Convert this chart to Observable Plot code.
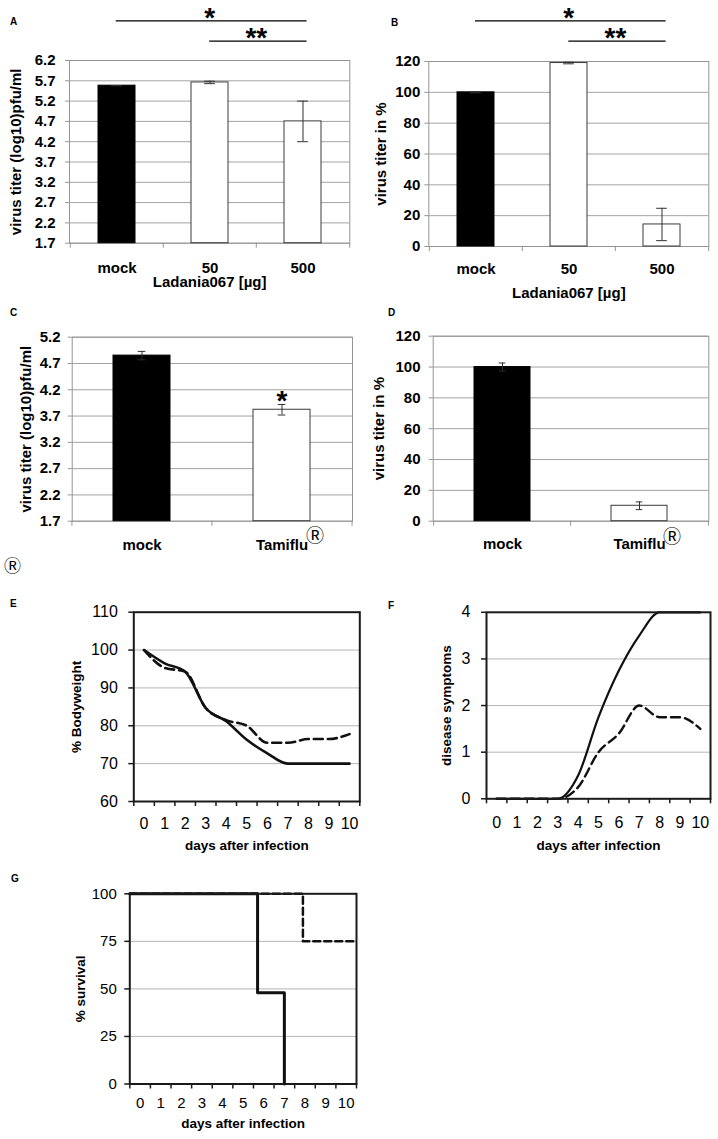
<!DOCTYPE html>
<html>
<head>
<meta charset="utf-8">
<script src="https://cdn.jsdelivr.net/npm/d3@7"></script>
<script src="https://cdn.jsdelivr.net/npm/@observablehq/plot@0.6"></script>
<style>
html,body{margin:0;padding:0;background:#fff;}
#fig{position:relative;width:718px;height:1139px;overflow:hidden;background:#fff;font-family:"Liberation Sans",Arial,Helvetica,sans-serif;color:#000;}
.letter{position:absolute;font-weight:bold;font-size:10px;line-height:1;}
.reg{position:absolute;font-family:"DejaVu Serif","DejaVu Sans","Noto Sans CJK JP",serif;font-size:17px;line-height:1;}
.holder{position:absolute;}
</style>
</head>
<body>
<div id="fig"></div>
<script>
// ---------------- data ----------------
const ladaniaGroups = ["mock", "50", "500"];
const titerA = [5.58, 5.66, 4.70];
const titerAErr = [0.00, 0.03, 0.50];
const percentB = [100, 119, 14.3];
const percentBErr = [0.3, 0.5, 10.5];
const tamifluGroups = ["mock", "Tamiflu"];
const titerC = [4.85, 3.82];
const titerCErr = [0.08, 0.10];
const percentD = [100, 10];
const percentDErr = [2.6, 2.5];
const titerTicksA = [1.7, 2.2, 2.7, 3.2, 3.7, 4.2, 4.7, 5.2, 5.7, 6.2];
const titerTicksC = [1.7, 2.2, 2.7, 3.2, 3.7, 4.2, 4.7, 5.2];
const percentTicks = [0, 20, 40, 60, 80, 100, 120];
const sigFrom = ["mock", "50"];
const sigTo = ["500", "500"];
const sigLabels = ["*", "**"];
const sigLevels = [2, 1];
const starC = ["Tamiflu"];

const days = [0, 1, 2, 3, 4, 5, 6, 7, 8, 9, 10];
const dayEdges = [-0.5, 0.5, 1.5, 2.5, 3.5, 4.5, 5.5, 6.5, 7.5, 8.5, 9.5, 10.5];
const bodyweightSolid = [100, 96.5, 94.3, 84.7, 81.2, 76.3, 72.7, 70, 70, 70, 70];
const bodyweightDashed = [100, 95.3, 94.3, 84.7, 81.5, 80.0, 75.5, 75.5, 76.5, 76.5, 77.8];
const bodyweightTicks = [60, 70, 80, 90, 100, 110];
const bodyweightGrid = [70, 80, 90, 100];
const symptomsSolid = [0, 0, 0, 0, 0.5, 1.75, 2.75, 3.5, 4, 4, 4];
const symptomsDashed = [0, 0, 0, 0, 0.25, 1.0, 1.4, 2.0, 1.75, 1.75, 1.5];
const symptomsTicks = [0, 1, 2, 3, 4];
const symptomsGrid = [1, 2, 3];
const survivalSolidDays = [-0.5, 5.7, 7];
const survivalSolid = [100, 48, 0];
const survivalDashedDays = [-0.5, 7.9, 10.5];
const survivalDashed = [100, 75, 75];
const survivalTicks = [0, 25, 50, 75, 100];
const survivalGrid = [25, 50, 75];

// ---------------- helpers ----------------
const FONT = '"Liberation Sans", Arial, Helvetica, sans-serif';
const fig = document.getElementById("fig");
function mount(node, x, y) {
  const d = document.createElement("div");
  d.className = "holder";
  d.style.left = x + "px"; d.style.top = y + "px";
  d.appendChild(node); fig.appendChild(d);
}
function dims(svg, fr) {
  return {width: svg.w, height: svg.h,
    marginLeft: fr.l - svg.x, marginRight: svg.x + svg.w - fr.r,
    marginTop: fr.t - svg.y, marginBottom: svg.y + svg.h - fr.b};
}
function htmlText(cls, txt, x, y) {
  const d = document.createElement("div");
  d.className = cls; d.textContent = txt;
  d.style.left = x + "px"; d.style.top = y + "px";
  fig.appendChild(d);
}
const BAR_GRID = "#a3a3a3", BAR_FRAME = "#959595", ERR = "#303030";

function barPanel(o) {
  const data = o.groups.map((g, i) => ({group: g, value: o.values[i], err: o.errors[i]}));
  const n = o.groups.length;
  const step = (o.frame.r - o.frame.l) / n;
  const bw = step * (1 - o.padInner);
  const capInset = (bw - o.capW) / 2;
  const y0 = o.yDomain[0];
  const marks = [
    Plot.gridY(o.yTicks, {stroke: BAR_GRID, strokeOpacity: 1}),
    Plot.frame({stroke: BAR_FRAME}),
    Plot.barY(data, {filter: d => d.group === "mock", x: "group", y1: y0, y2: "value", fill: "#000", stroke: "#000"}),
    Plot.barY(data, {filter: d => d.group !== "mock", x: "group", y1: y0, y2: "value", fill: "#fff", stroke: "#3a3a3a"}),
    Plot.ruleX(data, {x: "group", y1: d => d.value - d.err, y2: d => d.value + d.err, stroke: ERR}),
    Plot.tickY(data, {x: "group", y: d => d.value + d.err, insetLeft: capInset, insetRight: capInset, stroke: ERR}),
    Plot.tickY(data, {x: "group", y: d => d.value - d.err, insetLeft: capInset, insetRight: capInset, stroke: ERR}),
    Plot.ruleX(o.groups, {x: d => d, y1: y0, y2: y0, insetBottom: -5, dx: -step / 2, stroke: BAR_FRAME}),
    Plot.ruleX(o.groups.slice(-1), {x: d => d, y1: y0, y2: y0, insetBottom: -5, dx: step / 2, stroke: BAR_FRAME}),
    Plot.axisY({ticks: o.yTicks, tickFormat: o.fmt, tickSize: 4, tickPadding: o.yTickPad, stroke: BAR_FRAME, fill: "#000", label: null}),
    Plot.axisX({tickSize: 0, tickPadding: o.xTickPad, fill: "#000", label: null}),
    Plot.text([o.yLabel], {text: d => d, frameAnchor: "left", rotate: -90, dx: o.yLabelDx, textAnchor: "middle", lineAnchor: "middle", fill: "#000"})
  ];
  if (o.xLabel) marks.push(Plot.text([o.xLabel], {text: d => d, frameAnchor: "bottom", dy: o.xLabelDy, textAnchor: "middle", lineAnchor: "middle", fill: "#000"}));
  if (o.star) marks.push(Plot.text(data.filter(d => o.star.includes(d.group)), {x: "group", y: d => d.value + d.err, text: () => "*", fontSize: 28, fontWeight: "bold", dy: -3, fill: "#000"}));
  if (o.regMark) marks.push(Plot.text(o.regMark, {x: d => d, frameAnchor: "bottom", text: () => "\u24C7", textAnchor: "start", lineAnchor: "middle", dx: o.regDx, dy: o.regDy, fontSize: 18, fontWeight: "normal", fontFamily: '"DejaVu Serif","DejaVu Sans","Noto Sans CJK JP",serif', fill: "#000"}));
  const p = Plot.plot({
    ...dims(o.svg, o.frame),
    style: `font-family:${FONT};font-size:15px;font-weight:bold;overflow:visible;background:transparent;color:#000;`,
    x: {domain: o.groups, paddingInner: o.padInner, paddingOuter: o.padInner / 2},
    y: {domain: o.yDomain},
    marks
  });
  mount(p, o.svg.x, o.svg.y);
}

function sigPanel(o) {
  const rows = sigFrom.map((f, i) => {
    const a = o.groups.indexOf(f), b = o.groups.indexOf(sigTo[i]);
    return {x1: a, x2: b, mid: (a + b) / 2, level: sigLevels[i], label: sigLabels[i]};
  });
  const p = Plot.plot({
    ...dims(o.svg, o.frame),
    style: `font-family:${FONT};font-size:15px;font-weight:bold;overflow:visible;background:transparent;color:#000;`,
    x: {domain: [-0.5, o.groups.length - 0.5], axis: null},
    y: {domain: [0, 3], axis: null},
    marks: [
      Plot.ruleY(rows, {x1: "x1", x2: "x2", y: "level", stroke: "#000", strokeWidth: 1.3, insetRight: -4}),
      Plot.text(rows, {x: "mid", y: "level", text: "label", fontSize: 28, fontWeight: "bold", dy: -3, fill: "#000"})
    ]
  });
  mount(p, o.svg.x, o.svg.y);
}

function linePanel(o) {
  const solid = o.solidX.map((d, i) => ({day: d, v: o.solid[i]}));
  const dashed = o.dashedX.map((d, i) => ({day: d, v: o.dashed[i]}));
  const p = Plot.plot({
    ...dims(o.svg, o.frame),
    style: `font-family:${FONT};font-size:${o.tickFont}px;font-weight:normal;overflow:visible;background:transparent;color:#000;`,
    x: {domain: [-0.5, 10.5]},
    y: {domain: o.yDomain},
    marks: [
      Plot.gridY(o.grid, {stroke: "#b5b5b5", strokeOpacity: 1}),
      Plot.line(dashed, {x: "day", y: "v", curve: o.curve, stroke: "#111", strokeWidth: o.dashW, strokeDasharray: o.dash}),
      Plot.line(solid, {x: "day", y: "v", curve: o.curve, stroke: "#111", strokeWidth: o.solidW}),
      Plot.frame({stroke: "#1a1a1a", strokeWidth: 2}),
      Plot.axisY({ticks: o.yTicks, tickSize: 5, tickPadding: o.yTickPad, tickFormat: d => String(d), stroke: "#1a1a1a", strokeWidth: 1.5, fill: "#000", label: null}),
      Plot.axisX({ticks: dayEdges, tickSize: 5, tickFormat: () => "", stroke: "#1a1a1a", strokeWidth: 1.5, label: null}),
      Plot.axisX({ticks: days, tickSize: 0, tickPadding: o.xTickPad, tickFormat: d => String(d), fill: "#000", label: null}),
      Plot.text([o.yLabel], {text: d => d, frameAnchor: "left", rotate: -90, dx: o.yLabelDx, textAnchor: "middle", lineAnchor: "middle", fontWeight: "bold", fontSize: 13.5, fill: "#000"}),
      Plot.text(["days after infection"], {text: d => d, frameAnchor: "bottom", dy: o.xLabelDy, textAnchor: "middle", lineAnchor: "middle", fontWeight: "bold", fontSize: 13.5, fill: "#000"})
    ]
  });
  mount(p, o.svg.x, o.svg.y);
}

// ---------------- panels ----------------
sigPanel({groups: ladaniaGroups, svg: {x: 0, y: 0, w: 358, h: 61}, frame: {l: 69, r: 349.3, t: 0, b: 61}});
sigPanel({groups: ladaniaGroups, svg: {x: 360, y: 0, w: 358, h: 61}, frame: {l: 428.3, r: 708.3, t: 0, b: 61}});

barPanel({
  groups: ladaniaGroups, values: titerA, errors: titerAErr, yDomain: [1.7, 6.2], yTicks: titerTicksA, fmt: d3.format(".1f"),
  svg: {x: 0, y: 45, w: 358, h: 255}, frame: {l: 69, r: 349.3, t: 60, b: 242.7},
  padInner: 0.6, capW: 11, yTickPad: 10, xTickPad: 18.7,
  yLabel: "virus titer (log10)pfu/ml", yLabelDx: -53.7, xLabel: "Ladania067 [µg]", xLabelDy: 39.3
});
barPanel({
  groups: ladaniaGroups, values: percentB, errors: percentBErr, yDomain: [0, 120], yTicks: percentTicks, fmt: d => String(d),
  svg: {x: 360, y: 45, w: 358, h: 260}, frame: {l: 428.3, r: 708.3, t: 61, b: 246},
  padInner: 0.6, capW: 11, yTickPad: 4.5, xTickPad: 17.3,
  yLabel: "virus titer in %", yLabelDx: -47.8, xLabel: "Ladania067 [µg]", xLabelDy: 46.7
});
barPanel({
  groups: tamifluGroups, values: titerC, errors: titerCErr, yDomain: [1.7, 5.2], yTicks: titerTicksC, fmt: d3.format(".1f"),
  svg: {x: 0, y: 300, w: 360, h: 260}, frame: {l: 71.7, r: 352, t: 336.7, b: 520.7},
  padInner: 0.59, capW: 8, yTickPad: 7.7, xTickPad: 18.6,
  yLabel: "virus titer (log10)pfu/ml", yLabelDx: -46.4, star: starC,
  regMark: ["Tamiflu"], regDx: 24, regDy: 15
});
barPanel({
  groups: tamifluGroups, values: percentD, errors: percentDErr, yDomain: [0, 120], yTicks: percentTicks, fmt: d => String(d),
  svg: {x: 360, y: 300, w: 358, h: 260}, frame: {l: 432.7, r: 708.3, t: 335.7, b: 520.7},
  padInner: 0.59, capW: 7, yTickPad: 8.7, xTickPad: 17.6,
  yLabel: "virus titer in %", yLabelDx: -54.2,
  regMark: ["Tamiflu"], regDx: 23.6, regDy: 15.6
});

linePanel({
  solidX: days, solid: bodyweightSolid, dashedX: days, dashed: bodyweightDashed, curve: "monotone-x",
  yDomain: [60, 110], yTicks: bodyweightTicks, grid: bodyweightGrid,
  svg: {x: 0, y: 600, w: 365, h: 265}, frame: {l: 133.3, r: 359.3, t: 611.7, b: 801},
  tickFont: 16, yTickPad: 11, xTickPad: 15.7, solidW: 2.6, dashW: 2.6, dash: "9,5",
  yLabel: "% Bodyweight", yLabelDx: -56.8, xLabelDy: 44
});
linePanel({
  solidX: days, solid: symptomsSolid, dashedX: days, dashed: symptomsDashed, curve: "monotone-x",
  yDomain: [0, 4], yTicks: symptomsTicks, grid: symptomsGrid,
  svg: {x: 362, y: 600, w: 356, h: 265}, frame: {l: 486, r: 710, t: 611.8, b: 798.3},
  tickFont: 16, yTickPad: 11, xTickPad: 17.7, solidW: 2.2, dashW: 2.4, dash: "9,5",
  yLabel: "disease symptoms", yLabelDx: -39.5, xLabelDy: 46.7
});
linePanel({
  solidX: survivalSolidDays, solid: survivalSolid, dashedX: survivalDashedDays, dashed: survivalDashed, curve: "step-after",
  yDomain: [0, 100], yTicks: survivalTicks, grid: survivalGrid,
  svg: {x: 0, y: 880, w: 365, h: 259}, frame: {l: 129.3, r: 356, t: 893.3, b: 1083.5},
  tickFont: 15, yTickPad: 8, xTickPad: 13.5, solidW: 3, dashW: 2.5, dash: "7,4",
  yLabel: "% survival", yLabelDx: -49.3, xLabelDy: 39.5
});

// ---------------- panel letters & stray mark ----------------
htmlText("letter", "A", 10, 17);
htmlText("letter", "B", 391, 18);
htmlText("letter", "C", 10, 308);
htmlText("letter", "D", 388, 308);
htmlText("letter", "E", 10, 599);
htmlText("letter", "F", 388, 600.5);
htmlText("letter", "G", 11, 874);
htmlText("reg", "\u24C7", 4, 558);
</script>
</body>
</html>
